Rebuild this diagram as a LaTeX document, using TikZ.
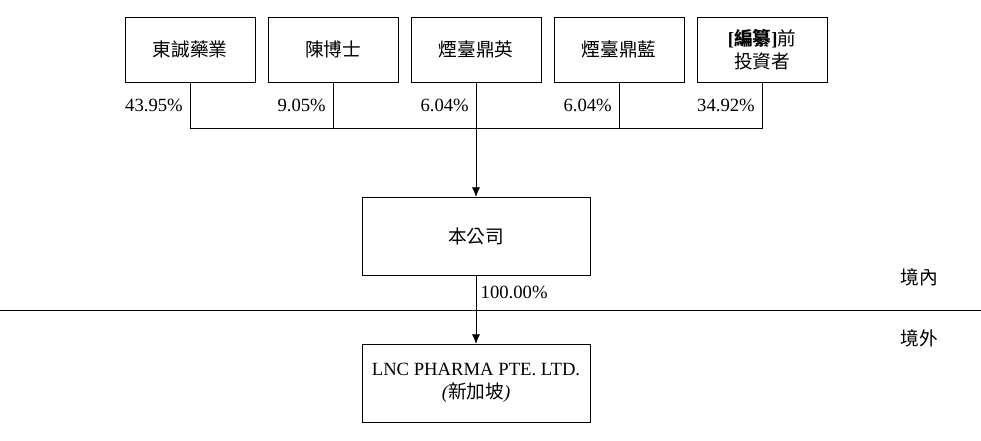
\documentclass[tikz,border=0pt]{standalone}
\usepackage{fontspec}
\setmainfont{Liberation Serif}
\newfontfamily\cjk{Noto Sans CJK TC}
\usetikzlibrary{positioning,arrows.meta}
\tikzset{
  holder/.style={draw, minimum width=130*0.75pt, minimum height=65*0.75pt, align=center, inner sep=1pt},
  company/.style={draw, minimum width=228*0.75pt, minimum height=78*0.75pt, align=center},
  pct/.style={anchor=east, inner sep=0pt},
}
\begin{document}
\begin{tikzpicture}[x=0.75pt, y=-0.75pt, font=\fontsize{14}{17}\selectfont, >={Latex[length=7pt,width=6pt]}]
  \useasboundingbox (0,0) rectangle (981,441);
  \node [holder] (dc) at (190,49.5) {\cjk 東誠藥業};
  \node [holder] (chen) at (333,49.5) {\cjk 陳博士};
  \node [holder] (yt1) at (476,49.5) {\cjk 煙臺鼎英};
  \node [holder] (yt2) at (619,49.5) {\cjk 煙臺鼎藍};
  \node [holder] (pre) at (762,49.5) {\textbf{[{\cjk 編纂}]}{\cjk 前}\\{\cjk 投資者}};
  \coordinate (join) at (476,128);
  \draw (dc.south) |- (join) (pre.south) |- (join);
  \draw (chen.south) -- (chen.south |- join) (yt2.south) -- (yt2.south |- join);
  \draw (yt1.south) -- (join);
  \node [pct] at (183,105) {43.95\%};
  \node [pct] at (326,105) {9.05\%};
  \node [pct] at (469,105) {6.04\%};
  \node [pct] at (612,105) {6.04\%};
  \node [pct] at (755,105) {34.92\%};
  \node [company] (co) at (476,236) {\cjk 本公司};
  \draw [->] (join) -- (co.north);
  \node [company] (lnc) at (476,383) {LNC PHARMA PTE. LTD.\\\textit{({\cjk 新加坡})}};
  \draw [->] (co.south) -- (lnc.north) node [pos=0.25, right] {100.00\%};
  \coordinate (bl) at (0,310);
  \coordinate (br) at (981,310);
  \draw (bl) -- (br);
  \node at (919,277) {\cjk 境內};
  \node at (919,338) {\cjk 境外};
\end{tikzpicture}
\end{document}
